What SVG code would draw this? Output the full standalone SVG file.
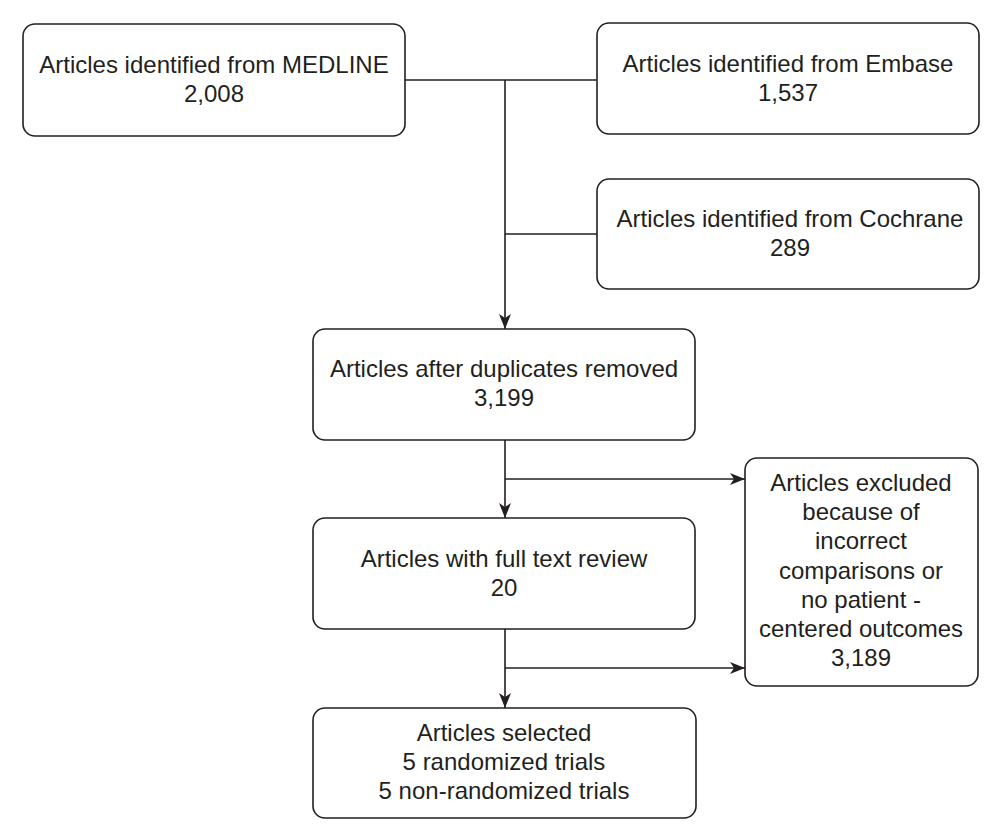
<svg xmlns="http://www.w3.org/2000/svg" width="1004" height="840" viewBox="0 0 1004 840">
<style>
  .box { fill: #ffffff; stroke: #231f20; stroke-width: 1.6; }
  .lbl { font-family: "Liberation Sans", Arial, sans-serif; font-size: 24px; fill: #231f20; text-anchor: middle; }
  .conn { fill: none; stroke: #231f20; stroke-width: 1.6; }
</style>
<defs>
  <marker id="arr" markerUnits="userSpaceOnUse" markerWidth="15" markerHeight="12" refX="15" refY="6" orient="auto">
    <path d="M0,0 L15,6 L0,12 L4,6 z" fill="#231f20"/>
  </marker>
</defs>
<rect width="1004" height="840" fill="#ffffff"/>
<g id="connectors">
  <path class="conn" d="M405,80 H597"/>
  <path class="conn" d="M505,234 H597"/>
  <path class="conn" d="M505,80 V329" marker-end="url(#arr)"/>
  <path class="conn" d="M505,440 V518" marker-end="url(#arr)"/>
  <path class="conn" d="M505,479 H745" marker-end="url(#arr)"/>
  <path class="conn" d="M505,629 V708" marker-end="url(#arr)"/>
  <path class="conn" d="M505,668 H745" marker-end="url(#arr)"/>
</g>
<g id="medline">
  <rect class="box" x="23" y="24" width="382" height="112" rx="12"/>
  <text class="lbl" x="214" y="73">Articles identified from MEDLINE</text>
  <text class="lbl" x="214" y="102">2,008</text>
</g>
<g id="embase">
  <rect class="box" x="597" y="23" width="382" height="111" rx="12"/>
  <text class="lbl" x="788" y="72">Articles identified from Embase</text>
  <text class="lbl" x="788" y="101">1,537</text>
</g>
<g id="cochrane">
  <rect class="box" x="597" y="179" width="382" height="110" rx="12"/>
  <text class="lbl" x="790" y="227">Articles identified from Cochrane</text>
  <text class="lbl" x="790" y="256">289</text>
</g>
<g id="duplicates">
  <rect class="box" x="313" y="329" width="382" height="111" rx="12"/>
  <text class="lbl" x="504" y="377">Articles after duplicates removed</text>
  <text class="lbl" x="504" y="406">3,199</text>
</g>
<g id="fulltext">
  <rect class="box" x="313" y="518" width="382" height="111" rx="12"/>
  <text class="lbl" x="504" y="567">Articles with full text review</text>
  <text class="lbl" x="504" y="596">20</text>
</g>
<g id="excluded">
  <rect class="box" x="745" y="458" width="233" height="228" rx="12"/>
  <text class="lbl" x="861" y="491">Articles excluded</text>
  <text class="lbl" x="861" y="520">because of</text>
  <text class="lbl" x="861" y="549">incorrect</text>
  <text class="lbl" x="861" y="579">comparisons or</text>
  <text class="lbl" x="861" y="608">no patient -</text>
  <text class="lbl" x="861" y="637">centered outcomes</text>
  <text class="lbl" x="861" y="666">3,189</text>
</g>
<g id="selected">
  <rect class="box" x="313" y="708" width="383" height="110" rx="12"/>
  <text class="lbl" x="504" y="741">Articles selected</text>
  <text class="lbl" x="504" y="770">5 randomized trials</text>
  <text class="lbl" x="504" y="799">5 non-randomized trials</text>
</g>
</svg>
